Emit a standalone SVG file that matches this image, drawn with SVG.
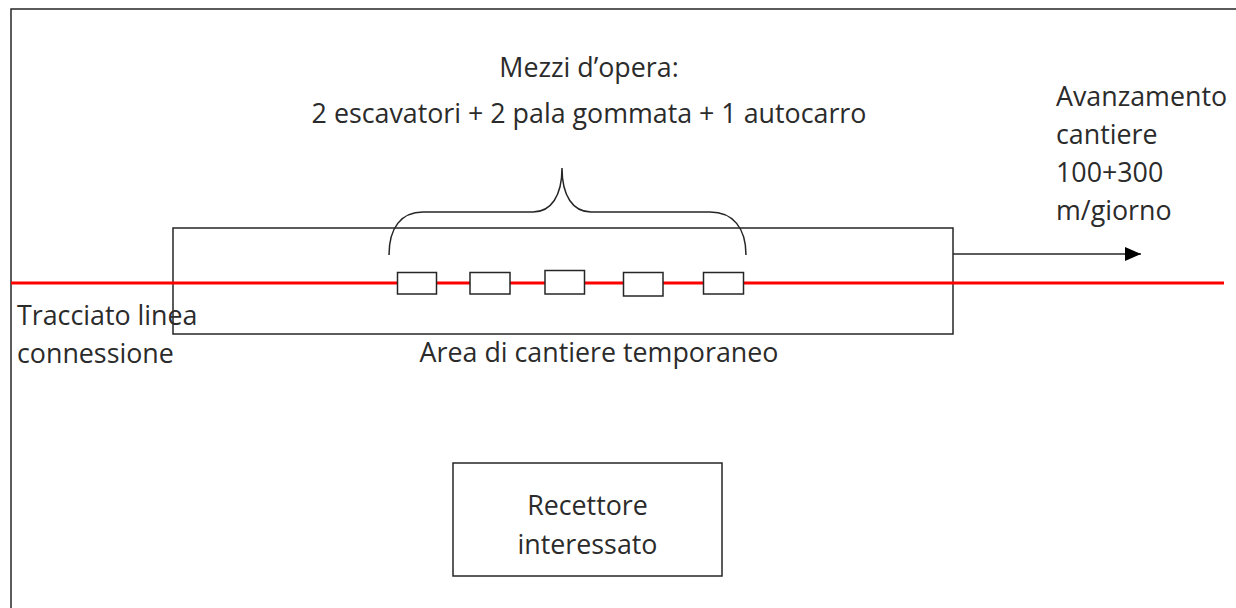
<svg xmlns="http://www.w3.org/2000/svg" width="1236" height="608" viewBox="0 0 1236 608">
  <defs>
    <style>
      .ln { fill: none; stroke: #262626; stroke-width: 1.5; }
      .box { fill: #ffffff; stroke: #262626; stroke-width: 1.5; }
      .t { font-family: "Open Sans", "Noto Sans", sans-serif; font-size: 26.8px; fill: #2b2b2b; }
      .red { stroke: #ff0000; stroke-width: 3; fill: none; }
    </style>
    <marker id="arr" markerWidth="17" markerHeight="14" refX="16" refY="7" orient="auto" markerUnits="userSpaceOnUse">
      <path d="M0,0 L16,7 L0,14 Z" fill="#000000"/>
    </marker>
  </defs>
  <rect x="0" y="0" width="1236" height="608" fill="#ffffff"/>

  <g id="frame">
    <path class="ln" d="M11,608 L11,9 L1236,9"/>
  </g>

  <g id="cantiere-area">
    <rect class="ln" x="173" y="228" width="780" height="106"/>
    <text class="t" x="599" y="362" text-anchor="middle">Area di cantiere temporaneo</text>
  </g>

  <g id="tracciato">
    <line class="red" x1="11" y1="283" x2="1224" y2="283"/>
    <text class="t" x="17" y="325">Tracciato linea</text>
    <text class="t" x="17" y="363">connessione</text>
  </g>

  <g id="mezzi">
    <rect class="box" x="397.5" y="272.5" width="39" height="21.5"/>
    <rect class="box" x="470" y="272.5" width="40" height="21.5"/>
    <rect class="box" x="545" y="270.5" width="39.5" height="23.5"/>
    <rect class="box" x="623.5" y="272.5" width="39.5" height="23.5"/>
    <rect class="box" x="703.5" y="272.5" width="40" height="21.5"/>
    <path class="ln" d="M389,255 C389,228 401,212 423,212 L533,212 C551,212 562,196 562,168 C562,196 573,212 591,212 L710,212 C733,212 746,228 746,255"/>
    <text class="t" x="589" y="77" text-anchor="middle">Mezzi d’opera:</text>
    <text class="t" x="589" y="123" text-anchor="middle">2 escavatori + 2 pala gommata + 1 autocarro</text>
  </g>

  <g id="avanzamento">
    <text class="t" x="1056" y="106">Avanzamento</text>
    <text class="t" x="1056" y="144">cantiere</text>
    <text class="t" x="1056" y="182">100+300</text>
    <text class="t" x="1056" y="220">m/giorno</text>
  </g>

  <g id="recettore">
    <rect class="ln" x="453" y="463" width="269" height="113"/>
    <text class="t" x="587.5" y="515" text-anchor="middle">Recettore</text>
    <text class="t" x="587.5" y="554" text-anchor="middle">interessato</text>
  </g>

  <g id="connectors">
    <line class="ln" x1="953" y1="254" x2="1141" y2="254" stroke="#000000" marker-end="url(#arr)"/>
  </g>
</svg>
